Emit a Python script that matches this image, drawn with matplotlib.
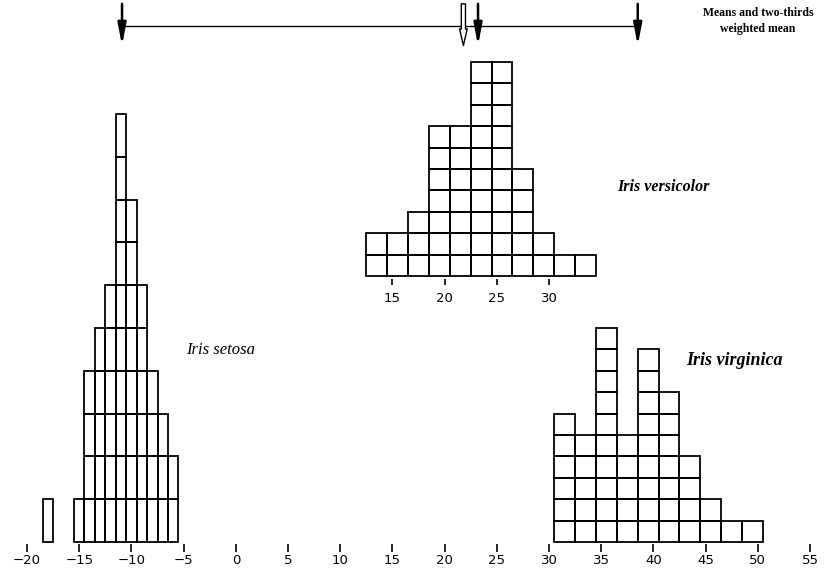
# -*- coding: utf-8 -*-
"""
Fisher iris discriminant: stacked-box histograms of the three species
"""

import matplotlib
matplotlib.use("Agg")
import matplotlib.pyplot as plt

# data
setosa_centers = [-18, -15, -14, -13, -12, -11, -10, -9, -8, -7, -6]
setosa_counts = [1, 1, 4, 5, 6, 10, 8, 6, 4, 3, 2]

versicolor_centers = [13.5, 15.5, 17.5, 19.5, 21.5, 23.5, 25.5, 27.5, 29.5, 31.5, 33.5]
versicolor_counts = [2, 2, 3, 7, 7, 10, 10, 5, 2, 1, 1]
versicolor_ticks = [15, 20, 25, 30]

virginica_centers = [31.5, 33.5, 35.5, 37.5, 39.5, 41.5, 43.5, 45.5, 47.5, 49.5]
virginica_counts = [6, 5, 10, 5, 9, 7, 4, 2, 1, 1]

main_ticks = [-20, -15, -10, -5, 0, 5, 10, 15, 20, 25, 30, 35, 40, 45, 50, 55]

# means (filled arrows) and two-thirds weighted mean (open arrow)
means = [-10.9, 23.2, 38.5]
weighted_mean = 21.8

SERIF = ["Liberation Serif", "DejaVu Serif"]


def draw_boxes(ax, centers, counts, width, height, base):
    """draw each count as its own open box, stacked level by level"""
    for level in range(max(counts)):
        xs = [c for c, n in zip(centers, counts) if n > level]
        ax.bar(xs, height, width=width, bottom=base + level * height,
               fill=False, edgecolor="black", linewidth=1.3)


fig = plt.figure(figsize=(8.27, 5.76), dpi=100)
ax = fig.add_axes([0, 0, 1, 1])
ax.set_xlim(-22.59, 56.63)
ax.set_ylim(-1.59, 25.33)
ax.axis("off")

# histograms
draw_boxes(ax, setosa_centers, setosa_counts, 1.0, 2.0, 0.0)
draw_boxes(ax, versicolor_centers, versicolor_counts, 2.0, 1.0, 12.43)
draw_boxes(ax, virginica_centers, virginica_counts, 2.0, 1.0, 0.0)

# main scale along the bottom
labels = [("\u2212" + str(-t)) if t < 0 else str(t) for t in main_ticks]
ax.vlines(main_ticks, -0.45, -0.1, color="black", linewidth=1.2)
for t, lab in zip(main_ticks, labels):
    ax.text(t, -0.87, lab, ha="center", va="center", fontsize=9.5)

# local scale under versicolor
ax.vlines(versicolor_ticks, 12.0, 12.3, color="black", linewidth=1.2)
for t in versicolor_ticks:
    ax.text(t, 11.4, str(t), ha="center", va="center", fontsize=9.5)

# species names
ax.text(-4.8, 8.97, "Iris setosa", family=SERIF, style="italic",
        fontsize=12, ha="left", va="center")
ax.text(36.5, 16.6, "Iris versicolor", family=SERIF, style="italic",
        fontweight="bold", fontsize=11.5, ha="left", va="center")
ax.text(43.1, 8.5, "Iris virginica", family=SERIF, style="italic",
        fontweight="bold", fontsize=13, ha="left", va="center")

# line joining the means, with arrows
ax.plot([means[0], means[-1]], [24.1, 24.1], color="black", linewidth=1.0)
for m in means:
    ax.annotate("", xy=(m, 23.2), xytext=(m, 25.15),
                arrowprops=dict(arrowstyle="-|>,head_width=0.25,head_length=1.3",
                                color="black", lw=1.8, shrinkA=0, shrinkB=0))
ax.annotate("", xy=(weighted_mean, 23.2), xytext=(weighted_mean, 25.15),
            arrowprops=dict(arrowstyle="simple,head_width=0.55,head_length=1.2,tail_width=0.3",
                            fc="white", ec="black", lw=1.0, shrinkA=0, shrinkB=0))

ax.text(50.0, 24.35, "Means and two-thirds\nweighted mean", family=SERIF,
        fontweight="bold", fontsize=8.5, ha="center", va="center", linespacing=1.45)

plt.savefig("out.png", dpi=100)
plt.close()
